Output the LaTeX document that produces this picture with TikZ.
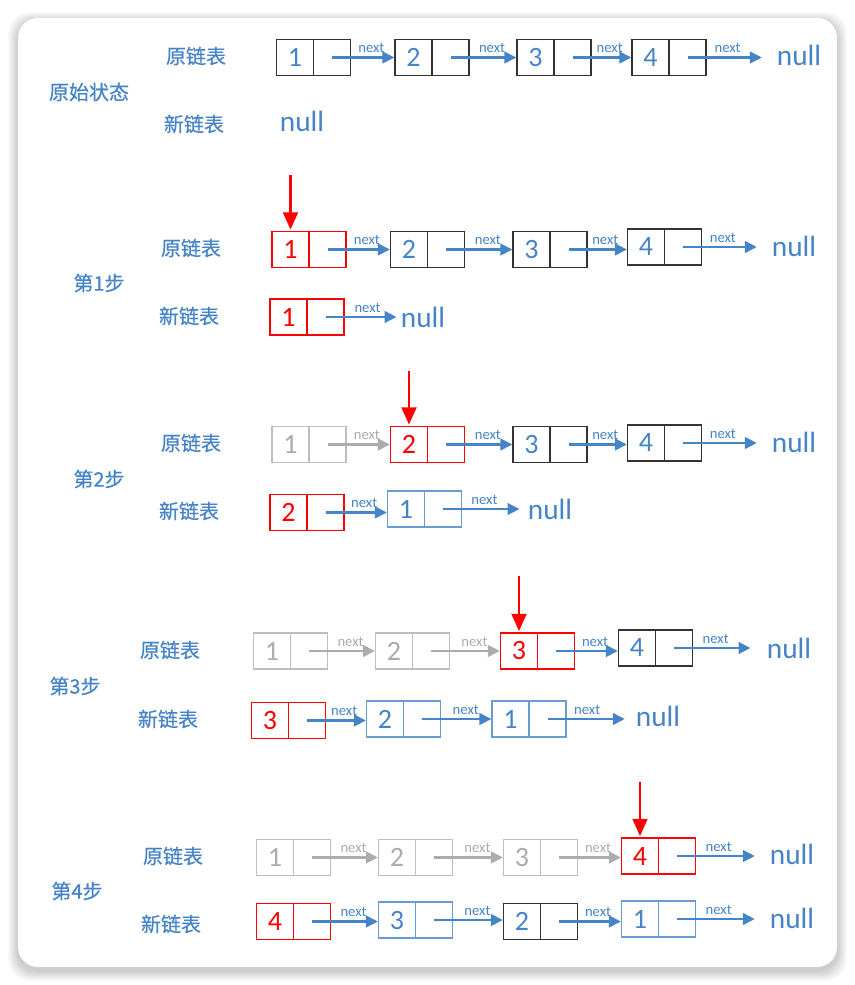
\documentclass[tikz,border=0pt]{standalone}
\usepackage{fontspec}
\setmainfont{Carlito}
\newfontfamily\cjk[FakeBold=0.5]{Noto Sans CJK SC}
\usetikzlibrary{arrows.meta}
\definecolor{lblue}{RGB}{70,132,200}
\definecolor{lgray}{RGB}{190,190,190}
\definecolor{tgray}{RGB}{172,172,172}
\definecolor{bblue}{RGB}{105,155,212}
\tikzset{
  half/.style={draw, rectangle, minimum width=27.75pt, minimum height=27pt, inner sep=0pt, line width=0.8pt, font=\fontsize{21}{21}\selectfont},
  cblack/.style={half, draw=black!80, text=lblue},
  cred/.style={half, draw=red, text=red},
  cgray/.style={half, draw=lgray, text=tgray},
  cblue/.style={half, draw=bblue, text=lblue},
  link/.style={-{Triangle[length=9pt,width=8.5pt]}, line width=2.2pt, draw=lblue},
  glink/.style={link, draw=tgray},
  nx/.style={font=\fontsize{11}{11}\selectfont, text=lblue, inner sep=2.3pt, anchor=south, pos=0.63},
  gnx/.style={nx, text=tgray},
  nnx/.style={nx, pos=0.45},
  nulltxt/.style={font=\fontsize{22}{22}\selectfont, text=lblue, inner sep=0pt},
  rowlbl/.style={font=\cjk\fontsize{15}{15}\selectfont, text=lblue, inner sep=0pt},
  ptr/.style={-{Triangle[length=13pt,width=11pt]}, line width=2.2pt, draw=red, shorten >=1pt},
}
\newcommand\cell[5]{%
  \node[#5] (#1) at (#2-18.5,#3) {#4};
  \node[#5] (#1r) at (#2+18.5,#3) {};
}
% horizontal link from the right half of #2 to the node #3
\newcommand\lnk[4][]{\draw[link,#1] (#2r.center) -- (#2r.center -| #3.west) node[#4]{next};}
\begin{document}
\begin{tikzpicture}[x=0.75pt,y=-0.75pt]
\useasboundingbox (0,0) rectangle (855,985);
\fill[white] (0,0) rectangle (855,985);
% card shadow
\foreach \i in {1,...,10}{
  \fill[black, opacity=0.02, rounded corners=16pt] (18-\i,18-\i+4) rectangle (837+\i,967+\i+4);
}
\fill[white, rounded corners=15pt] (18,18) rectangle (837,967);

% ---------- original state ----------
\node[rowlbl] (t0) at (89,92) {原始状态};
\node[rowlbl] (o0) at (196,56) {原链表};
\node[rowlbl] (n0) at (194,124) {新链表};
\cell{A1}{313.5}{57.5}{1}{cblack}
\cell{A2}{432}{57.5}{2}{cblack}
\cell{A3}{554}{57.5}{3}{cblack}
\cell{A4}{669}{57.5}{4}{cblack}
\node[nulltxt] (Anull) at (799,55) {null};
\node[nulltxt] (Znull) at (302,121) {null};
\lnk{A1}{A2}{nx}
\lnk{A2}{A3}{nx}
\lnk{A3}{A4}{nx}
\lnk[shorten >=11pt]{A4}{Anull}{nnx}

% ---------- step 1 ----------
\node[rowlbl] (t1) at (99,283) {第1步};
\node[rowlbl] (o1) at (191,248) {原链表};
\node[rowlbl] (n1) at (189,316) {新链表};
\cell{B1}{309}{249.5}{1}{cred}
\cell{B2}{427.5}{249.5}{2}{cblack}
\cell{B3}{550}{249.5}{3}{cblack}
\cell{B4}{664.5}{247}{4}{cblack}
\node[nulltxt] (Bnull) at (794,246) {null};
\coordinate (P1) at (B1.north |- 0,175);
\draw[ptr] (P1) -- (B1.north);
\lnk{B1}{B2}{nx}
\lnk{B2}{B3}{nx}
\lnk{B3}{B4}{nx}
\lnk[shorten >=11pt]{B4}{Bnull}{nnx}
\cell{C1}{307}{317}{1}{cred}
\node[nulltxt] (Cnull) at (423,317) {null};
\lnk[shorten >=3pt]{C1}{Cnull}{nx, pos=0.56}

% ---------- step 2 ----------
\node[rowlbl] (t2) at (99,479) {第2步};
\node[rowlbl] (o2) at (191,443) {原链表};
\node[rowlbl] (n2) at (189,511) {新链表};
\cell{D1}{309}{444.5}{1}{cgray}
\cell{D2}{427.5}{444.5}{2}{cred}
\cell{D3}{550}{444.5}{3}{cblack}
\cell{D4}{664.5}{443}{4}{cblack}
\node[nulltxt] (Dnull) at (794,442) {null};
\coordinate (P2) at (D2.north |- 0,371);
\draw[ptr] (P2) -- (D2.north);
\lnk[glink]{D1}{D2}{gnx}
\lnk{D2}{D3}{nx}
\lnk{D3}{D4}{nx}
\lnk[shorten >=11pt]{D4}{Dnull}{nnx}
\cell{E2}{307}{512.5}{2}{cred}
\cell{E1}{424.5}{509}{1}{cblue}
\node[nulltxt] (Enull) at (550,509) {null};
\lnk{E2}{E1}{nx}
\lnk[shorten >=6pt]{E1}{Enull}{nx, pos=0.49}

% ---------- step 3 ----------
\node[rowlbl] (t3) at (75,686) {第3步};
\node[rowlbl] (o3) at (170,650) {原链表};
\node[rowlbl] (n3) at (168,719) {新链表};
\cell{F1}{290.5}{651}{1}{cgray}
\cell{F2}{412.5}{651}{2}{cgray}
\cell{F3}{537.5}{651}{3}{cred}
\cell{F4}{655.5}{648}{4}{cblack}
\node[nulltxt] (Fnull) at (789,648) {null};
\coordinate (P3) at (F3.north |- 0,576);
\draw[ptr] (P3) -- (F3.north);
\lnk[glink]{F1}{F2}{gnx}
\lnk[glink]{F2}{F3}{gnx}
\lnk{F3}{F4}{nx}
\lnk[shorten >=12pt]{F4}{Fnull}{nnx}
\cell{G3}{288.5}{720.5}{3}{cred}
\cell{G2}{403.5}{719}{2}{cblue}
\cell{G1}{529}{719}{1}{cblue}
\node[nulltxt] (Gnull) at (658,716) {null};
\lnk{G3}{G2}{nx}
\lnk{G2}{G1}{nx}
\lnk[shorten >=8pt]{G1}{Gnull}{nnx}

% ---------- step 4 ----------
\node[rowlbl] (t4) at (77,891) {第4步};
\node[rowlbl] (o4) at (173,856) {原链表};
\node[rowlbl] (n4) at (171,924) {新链表};
\cell{H1}{293.5}{857.5}{1}{cgray}
\cell{H2}{415.5}{857.5}{2}{cgray}
\cell{H3}{540.5}{857.5}{3}{cgray}
\cell{H4}{658.5}{856}{4}{cred}
\node[nulltxt] (Hnull) at (792,854) {null};
\coordinate (P4) at (H4.north |- 0,782);
\draw[ptr] (P4) -- (H4.north);
\lnk[glink]{H1}{H2}{gnx}
\lnk[glink]{H2}{H3}{gnx}
\lnk[glink]{H3}{H4}{gnx}
\lnk[shorten >=11pt]{H4}{Hnull}{nnx}
\cell{I4}{293.5}{921.5}{4}{cred}
\cell{I3}{415.5}{920}{3}{cblue}
\cell{I2}{540.5}{921.5}{2}{cblack}
\cell{I1}{658.5}{919}{1}{cblue}
\node[nulltxt] (Inull) at (792,918) {null};
\lnk{I4}{I3}{nx}
\lnk{I3}{I2}{nx}
\lnk{I2}{I1}{nx}
\lnk[shorten >=11pt]{I1}{Inull}{nnx}
\end{tikzpicture}
\end{document}
